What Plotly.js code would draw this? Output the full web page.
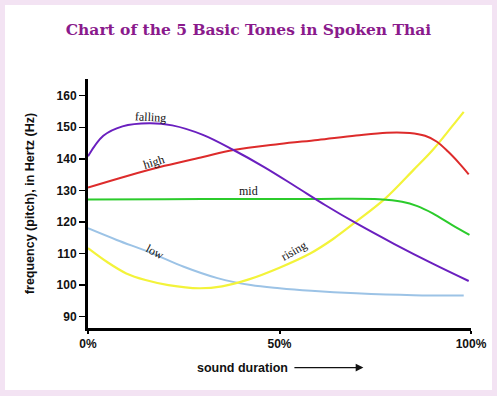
<!DOCTYPE html>
<html><head><meta charset="utf-8">
<script src="https://cdn.plot.ly/plotly-3.0.1.min.js"></script>
<style>
html,body{margin:0;padding:0;background:#f3e3f3;width:497px;height:396px;overflow:hidden}
#plot{position:absolute;left:5px;top:5px;width:487px;height:385px;background:#fff}
</style></head>
<body><div id="plot"></div>
<script>
// values (x = % of sound duration, y = Hz)
const fallingX = [0, 4, 9, 16, 22, 30, 38, 46, 54, 62, 70, 80, 90, 99.4];
const fallingY = [140.8, 147.3, 150.3, 151.3, 150.6, 147.6, 142.8, 137.4, 131.4, 125.3, 119.6, 113, 106.8, 101.3];
const highX = [0, 10, 20, 30, 38, 50, 60, 70, 78, 84, 88, 91, 94, 97, 99.4];
const highY = [130.9, 134.5, 137.8, 140.6, 142.8, 144.7, 146, 147.4, 148.3, 148.2, 147.3, 145.5, 142.3, 138.5, 135.1];
const midX = [0, 20, 40, 60, 76, 82, 86, 90, 95, 99.6];
const midY = [127.1, 127.2, 127.3, 127.3, 127.2, 126.4, 125, 122.7, 119.1, 115.9];
const lowX = [0, 7.5, 16.3, 25, 33.8, 42.5, 50, 58.3, 70, 85, 98.1];
const lowY = [118, 114.3, 110.3, 105.8, 102.2, 100, 99, 98.2, 97.4, 96.8, 96.7];
const risingX = [0, 5, 10, 15, 21, 29, 35, 42, 50, 58, 64, 70, 77.5, 85, 90, 95, 98.1];
const risingY = [111.7, 107.3, 103.7, 101.6, 100, 99, 99.6, 101.8, 105.5, 110, 114.6, 120.1, 127.3, 136.5, 142.8, 150.2, 154.9];
const xTickVals = [0, 50, 100];
const xTickText = ['0%', '50%', '100%'];
const yTickVals = [90, 100, 110, 120, 130, 140, 150, 160];
const labelNames = ['falling', 'high', 'mid', 'low', 'rising'];
const labelX = [16.3, 17.1, 42, 17.6, 53.6];
const labelY = [153.3, 139.1, 129.7, 110.6, 110.9];
const labelAngle = [3, -17, 0, 28, -30];

function tr(x, y, c, w) {
  return {x: x, y: y, type: 'scatter', mode: 'lines', line: {color: c, width: w || 2, shape: 'spline', smoothing: 1}, hoverinfo: 'skip'};
}
const data = [
  tr(lowX, lowY, '#9cc3e6', 2),
  tr(risingX, risingY, '#f3f33a', 2.2),
  tr(midX, midY, '#2bcb2b', 2),
  tr(highX, highY, '#dd2b2b', 2),
  tr(fallingX, fallingY, '#6a1fbf', 2)
];
const ann = labelNames.map((t, i) => ({
  x: labelX[i], y: labelY[i], xref: 'x', yref: 'y', text: t, showarrow: false,
  textangle: labelAngle[i], font: {family: 'Liberation Serif, DejaVu Serif, serif', size: 12, color: '#111'}
}));
ann.push({xref: 'paper', yref: 'paper', x: 0.279, y: -0.159, xanchor: 'left', yanchor: 'middle',
  text: '<b>sound duration</b>', showarrow: false, font: {family: 'Liberation Sans, Arial, sans-serif', size: 12.5, color: '#111'}});
ann.push({xref: 'x', yref: 'paper', x: 71.9, y: -0.159, ax: 53.5, ay: -0.159, axref: 'x', ayref: 'paper',
  text: '', showarrow: true, arrowhead: 2, arrowsize: 1.1, arrowwidth: 1.4, arrowcolor: '#111'});

const layout = {
  width: 487, height: 385,
  margin: {l: 83, r: 21, t: 74, b: 62},
  paper_bgcolor: '#ffffff', plot_bgcolor: '#ffffff',
  showlegend: false,
  title: {text: '<b>Chart of the 5 Basic Tones in Spoken Thai</b>', x: 0.5, xanchor: 'center', y: 0.935, yanchor: 'middle',
    font: {family: 'DejaVu Serif, Liberation Serif, serif', size: 15.5, color: '#8a1a8c'}},
  xaxis: {range: [0, 100], showgrid: false, zeroline: false, showline: true, linewidth: 3, linecolor: '#000',
    tickvals: xTickVals, ticktext: xTickText, ticks: 'outside', ticklen: 3, tickwidth: 2, tickcolor: '#000',
    tickfont: {family: 'Liberation Sans, Arial, sans-serif', size: 12, color: '#111', weight: 'bold'}, fixedrange: true},
  yaxis: {range: [86.4, 165.3], showgrid: false, zeroline: false, showline: true, linewidth: 3, linecolor: '#000',
    tickvals: yTickVals, ticks: 'outside', ticklen: 6, tickwidth: 1.5, tickcolor: '#000',
    tickfont: {family: 'Liberation Sans, Arial, sans-serif', size: 12, color: '#111', weight: 'bold'},
    title: {text: '<b>frequency (pitch), in Hertz (Hz)</b>', standoff: 20,
      font: {family: 'Liberation Sans, Arial, sans-serif', size: 12.5, color: '#111'}}, fixedrange: true},
  annotations: ann
};
Plotly.newPlot('plot', data, layout, {displayModeBar: false, staticPlot: true});
</script></body></html>
